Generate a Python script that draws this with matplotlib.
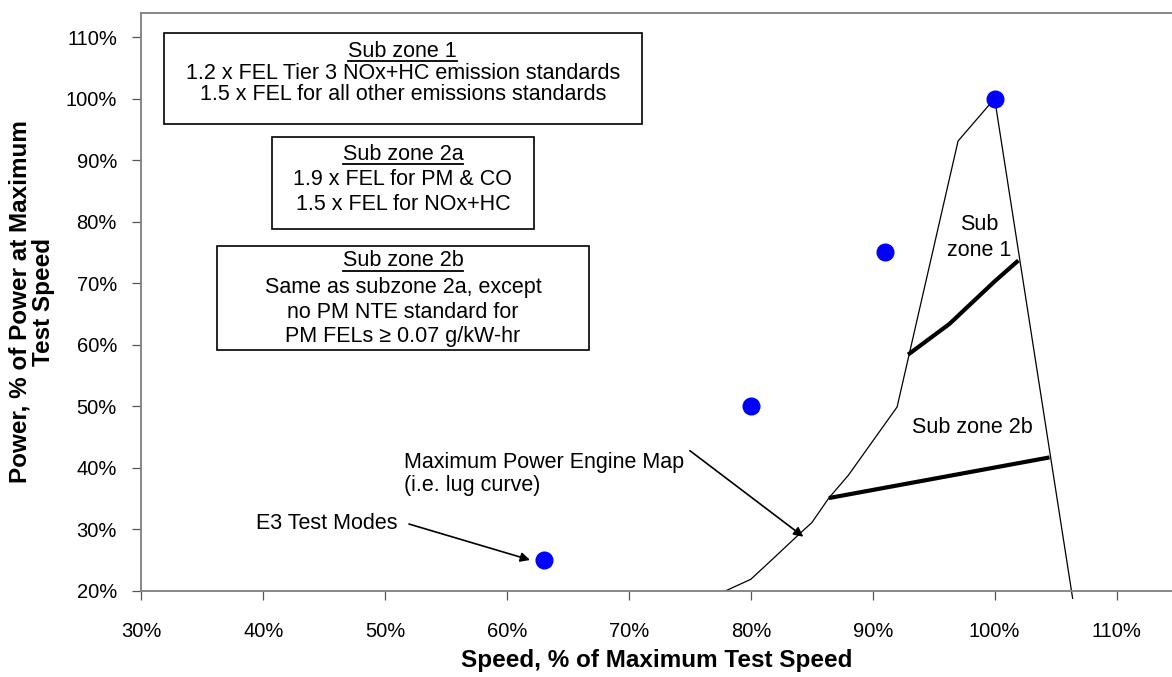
import matplotlib
matplotlib.use('Agg')
import matplotlib.pyplot as plt
from matplotlib.patches import Rectangle
from matplotlib.lines import Line2D

plt.rcParams['font.family'] = ['Liberation Sans', 'DejaVu Sans']

# ---- data ----
speed_modes = [63, 80, 91, 100]
power_modes = [25, 50, 75, 100]

lug_speed = [77.9, 80.0, 81.85, 84.0, 85.0, 86.4, 88.0, 92.0, 97.0, 100.0]
lug_power = [20.0, 21.9, 25.3, 29.3, 31.1, 35.1, 38.8, 49.9, 93.1, 100.0]

right_speed = [100.0, 106.4]
right_power = [100.0, 18.8]

sz1_speed = [92.9, 96.3, 100.0, 101.95]
sz1_power = [58.4, 63.4, 70.3, 73.7]

sz2b_speed = [86.4, 104.5]
sz2b_power = [35.1, 41.7]

xticks = [30, 40, 50, 60, 70, 80, 90, 100, 110]
yticks = [20, 30, 40, 50, 60, 70, 80, 90, 100, 110]
xticklabels = [f'{v}%' for v in xticks]
yticklabels = [f'{v}%' for v in yticks]

box1_lines = ['Sub zone 1', '1.2 x FEL Tier 3 NOx+HC emission standards',
              '1.5 x FEL for all other emissions standards']
box2_lines = ['Sub zone 2a', '1.9 x FEL for PM & CO', '1.5 x FEL for NOx+HC']
box3_lines = ['Sub zone 2b', 'Same as subzone 2a, except', 'no PM NTE standard for',
              'PM FELs \u2265 0.07 g/kW-hr']

W, H = 1172, 677
fig = plt.figure(figsize=(W / 100, H / 100), dpi=100)

def fx(x):
    return x / W

def fy(y):
    return 1 - y / H

AX_L, AX_B, AX_T = 141.3, 591, 13
ax = fig.add_axes([fx(AX_L), fy(AX_B), fx(W - AX_L), (AX_B - AX_T) / H])
ax.set_xlim(30, 114.55)
ax.set_ylim(20, 113.9)

ax.plot(lug_speed, lug_power, color='black', lw=0.9, solid_joinstyle='miter')
ax.plot(right_speed, right_power, color='black', lw=0.9, clip_on=False)
ax.plot(sz1_speed, sz1_power, color='black', lw=3.0, solid_capstyle='butt')
ax.plot(sz2b_speed, sz2b_power, color='black', lw=3.0, solid_capstyle='butt')
ax.plot(speed_modes, power_modes, 'o', color='#0000ff', ms=12, zorder=5, clip_on=False)

ax.set_xticks(xticks)
ax.set_xticklabels(xticklabels)
ax.set_yticks(yticks)
ax.set_yticklabels(yticklabels)
ax.tick_params(axis='both', direction='out', length=6.5, width=0.9, color='#555555',
               labelsize=14.5)
ax.tick_params(axis='x', pad=16)
ax.tick_params(axis='y', pad=11)
for s in ['left', 'bottom', 'top']:
    ax.spines[s].set_color('#7f7f7f')
    ax.spines[s].set_linewidth(1.3)
ax.spines['right'].set_visible(False)

ax.set_xlabel('Speed, % of Maximum Test Speed', fontsize=17.5, fontweight='bold')
ax.xaxis.label.set_va('center')
ax.xaxis.set_label_coords(0.5, -(661 - AX_B) / (AX_B - AX_T))
ax.set_ylabel('Power, % of Power at Maximum\nTest Speed', fontsize=17.5, fontweight='bold',
              linespacing=1.05)
ax.yaxis.label.set_va('center')
ax.yaxis.label.set_ha('center')
ax.yaxis.set_label_coords(-(AX_L - 31.5) / (W - AX_L), 0.5)

# annotations inside plot
ax.text(98.7, 77.4, 'Sub\nzone 1', ha='center', va='center', fontsize=15.5, linespacing=1.3)
ax.text(98.2, 46.6, 'Sub zone 2b', ha='center', va='center', fontsize=15.5)

ax.annotate('', xy=(61.89, 25.04), xytext=(51.96, 30.88),
            arrowprops=dict(arrowstyle='-|>', color='black', lw=1.2, mutation_scale=14,
                            shrinkA=0, shrinkB=0))
ax.text(51.0, 31.0, 'E3 Test Modes', ha='right', va='center', fontsize=15.5)

ax.annotate('', xy=(84.31, 28.82), xytext=(75.0, 42.8),
            arrowprops=dict(arrowstyle='-|>', color='black', lw=1.2, mutation_scale=14,
                            shrinkA=0, shrinkB=0))
ax.text(30 + (404 - 141.3) / 12.19, 20 + (591 - 474) / 6.156,
        'Maximum Power Engine Map\n(i.e. lug curve)',
        ha='left', va='center', fontsize=15.5, linespacing=1.1)

# boxes (figure pixel geometry)
def draw_box(x0, y0, x1, y1, lines, ys):
    r = Rectangle((fx(x0), fy(y1)), fx(x1 - x0), (y1 - y0) / H, transform=fig.transFigure,
                  fill=True, facecolor='white', edgecolor='black', lw=1.2, zorder=3)
    fig.add_artist(r)
    cx = (x0 + x1) / 2
    texts = []
    for t, yy in zip(lines, ys):
        texts.append(fig.text(fx(cx), fy(yy), t, ha='center', va='center', fontsize=15.5,
                              zorder=4))
    return texts

t1 = draw_box(163.5, 32.7, 642, 124, box1_lines, [51.7, 73.3, 95])
t2 = draw_box(271.7, 137.3, 534, 229, box2_lines, [154, 180, 204])
t3 = draw_box(217.3, 245.5, 588.7, 350, box3_lines, [261, 287, 312, 337])

fig.canvas.draw()
renderer = fig.canvas.get_renderer()
for t in (t1[0], t2[0], t3[0]):
    bb = t.get_window_extent(renderer)
    yl = bb.y0 + 1
    fig.add_artist(Line2D([bb.x0 / W, bb.x1 / W], [yl / H, yl / H], transform=fig.transFigure,
                          color='black', lw=1.3, zorder=4))

fig.savefig('out.png', dpi=100)
